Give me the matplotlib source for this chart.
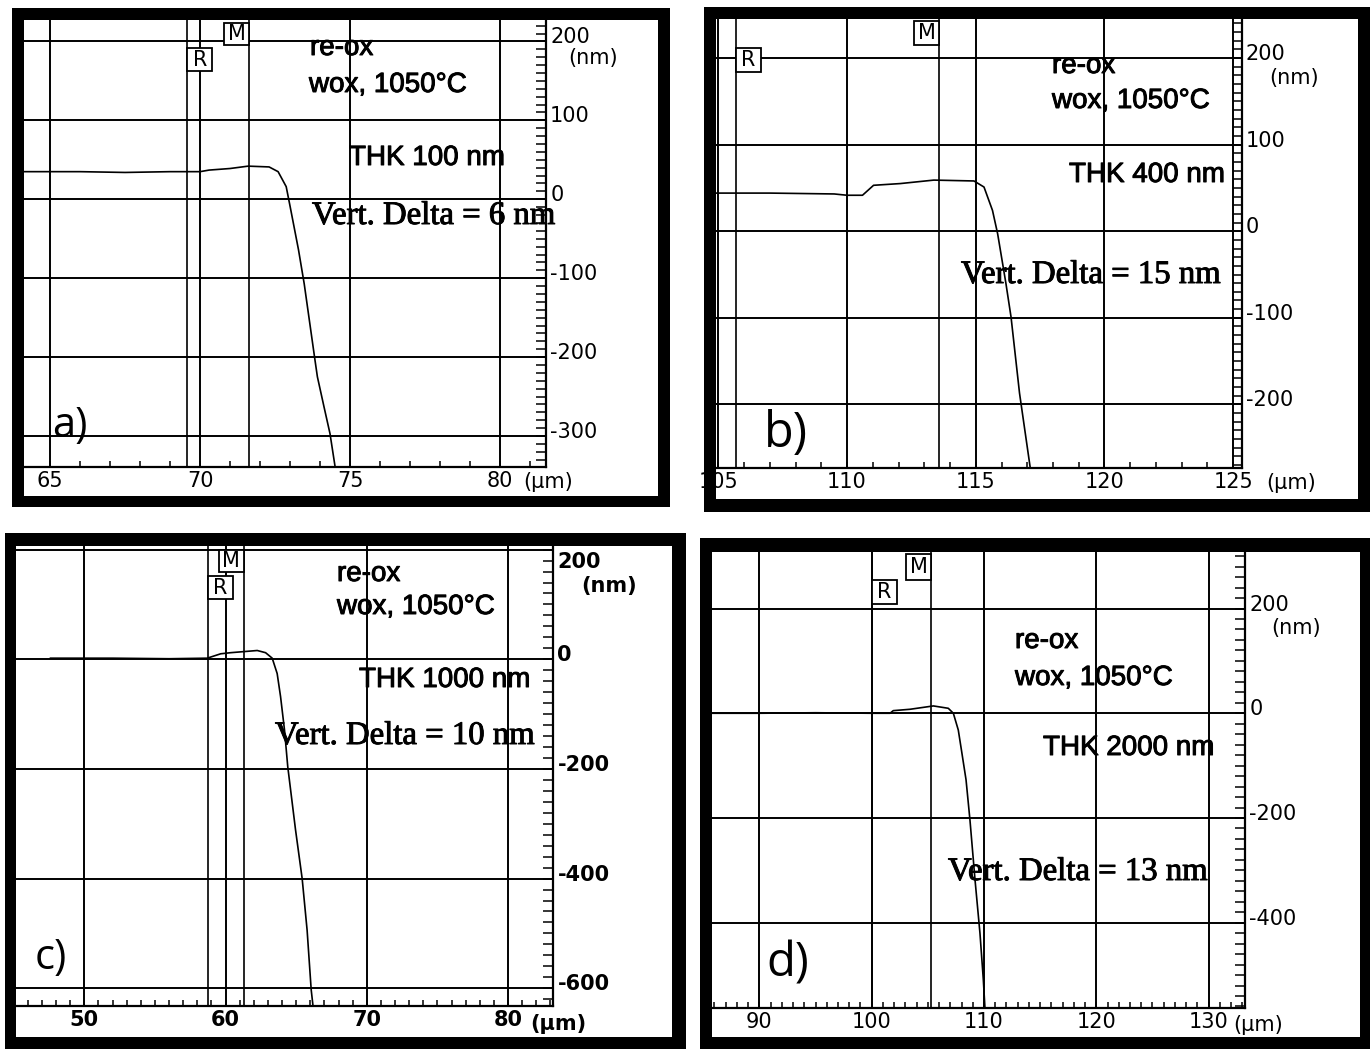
import matplotlib
matplotlib.use("Agg")
import matplotlib.pyplot as plt
import matplotlib.transforms as mtransforms
import matplotlib.patheffects as pe
from matplotlib.patches import Rectangle
from matplotlib.ticker import MultipleLocator

plt.rcParams['axes.unicode_minus'] = False
plt.rcParams['font.family'] = ['DejaVu Sans']

W, H, DPI = 1370, 1049, 100

# ------------------------------------------------------------------ data
# panel a : THK 100 nm   (x in um, y in nm)
a_x = [64.13, 66.0, 67.5, 69.0, 70.0, 70.3, 71.0, 71.6, 72.3, 72.6, 72.87, 73.0,
       73.28, 73.47, 73.83, 73.91, 74.13, 74.33, 74.5, 74.55]
a_y = [35, 35, 34, 35, 35, 37, 39, 42, 41, 35, 16, -9,
       -64, -107, -204, -225, -263, -297, -339, -345]
a_xticks = [65, 70, 75, 80]
a_yticks = [200, 100, 0, -100, -200, -300]
a_markers = [69.57, 71.64]          # R, M cursor positions
a_text = ["re-ox", "wox, 1050°C", "THK 100 nm", "Vert. Delta = 6 nm", "a)"]

# panel b : THK 400 nm
b_x = [104.9, 107.0, 109.5, 110.0, 110.6, 111.03, 112.07, 113.37, 114.93, 115.32,
       115.65, 115.85, 116.17, 116.37, 116.7, 117.12, 117.2]
b_y = [44, 44, 43, 41.5, 41.5, 53, 55, 59, 58, 51,
       24, -3, -60, -99, -187, -274, -285]
b_xticks = [105, 110, 115, 120, 125]
b_yticks = [200, 100, 0, -100, -200]
b_markers = [105.69, 113.57]
b_text = ["re-ox", "wox, 1050°C", "THK 400 nm", "Vert. Delta = 15 nm", "b)"]

# panel c : THK 1000 nm
c_x = [47.6, 52.0, 56.0, 58.7, 59.65, 60.35, 62.24, 62.83, 63.3, 63.65, 63.89,
       64.17, 64.4, 64.95, 65.42, 65.77, 66.06, 66.2]
c_y = [2, 2, 1, 2, 10, 12, 16, 12, 2, -26, -68,
       -129, -196, -311, -400, -494, -603, -635]
c_xticks = [50, 60, 70, 80]
c_yticks = [200, 0, -200, -400, -600]
c_markers = [58.73, 61.27]
c_text = ["re-ox", "wox, 1050°C", "THK 1000 nm", "Vert. Delta = 10 nm", "c)"]

# panel d : THK 2000 nm
d_x = [85.78, 90.0, 95.0, 100.0, 101.63, 101.92, 103.41, 105.49, 106.82, 107.27,
       107.71, 108.01, 108.4, 108.75, 109.2, 109.64, 109.94, 110.09]
d_y = [0, 0, 1, 0, 0, 5, 7.6, 14, 9.5, 0,
       -32, -73, -127, -204, -318, -420, -509, -565]
d_xticks = [90, 100, 110, 120, 130]
d_yticks = [200, 0, -200, -400]
d_markers = [100.0, 105.28]
d_text = ["re-ox", "wox, 1050°C", "THK 2000 nm", "Vert. Delta = 13 nm", "d)"]

marker_letters = ["R", "M"]

# ------------------------------------------------------------------ layout (pixels)
panels = [
    dict(x=a_x, y=a_y, xt=a_xticks, yt=a_yticks, mk=a_markers, txt=a_text,
         outer=(12, 8, 670, 507), inner=(24, 20, 658, 496), axbox=(24, 20, 546, 466.7),
         xlim=(64.13, 81.53), ylim=(-338.9, 227.2), xminor=1, yminor=10,
         txtpos=[(310, 55), (309, 92), (349, 165), (312, 224), (52, 437)], lblsize=30,
         boxes=[(48, 71), (23, 45)], nm=(568, 58), um=(523, 482), bold=False, ladder=False),
    dict(x=b_x, y=b_y, xt=b_xticks, yt=b_yticks, mk=b_markers, txt=b_text,
         outer=(704, 7, 1372, 512), inner=(716, 19, 1358, 499), axbox=(716, 19, 1241.7, 468),
         xlim=(104.91, 125.33), ylim=(-273.4, 245.0), xminor=1, yminor=10,
         txtpos=[(1052, 73), (1052, 108), (1069, 182), (961, 283), (764, 447)], lblsize=35,
         boxes=[(48, 72), (21, 45)], nm=(1269, 78), um=(1266, 483), bold=False, ladder=True),
    dict(x=c_x, y=c_y, xt=c_xticks, yt=c_yticks, mk=c_markers, txt=c_text,
         outer=(5, 533, 686, 1052), inner=(16, 546, 672, 1037), axbox=(16, 546, 553.3, 1005.8),
         xlim=(45.16, 83.2), ylim=(-632.0, 206.6), xminor=1, yminor=20,
         txtpos=[(337, 581), (337, 614), (359, 687), (275, 744), (35, 969)], lblsize=30,
         boxes=[(576, 599), (550, 572)], nm=(581, 586), um=(530, 1024), bold=True, ladder=False),
    dict(x=d_x, y=d_y, xt=d_xticks, yt=d_yticks, mk=d_markers, txt=d_text,
         outer=(700, 538, 1372, 1052), inner=(712, 552, 1360, 1037), axbox=(712, 552, 1245, 1008.3),
         xlim=(85.78, 133.24), ylim=(-563.5, 308.0), xminor=1, yminor=20,
         txtpos=[(1015, 648), (1015, 685), (1043, 755), (948, 880), (766, 977)], lblsize=34,
         boxes=[(580, 604), (554, 580)], nm=(1271, 628), um=(1233, 1025), bold=False, ladder=False),
]


def fx(px):
    return px / W


def fy(py):
    return 1 - py / H


thick = [pe.withStroke(linewidth=0.7, foreground='black')]

fig = plt.figure(figsize=(W / DPI, H / DPI), dpi=DPI)
fig.patch.set_facecolor('white')

for P in panels:
    l, t, r, b = P['axbox']
    ax = fig.add_axes([fx(l), fy(b), (r - l) / W, (b - t) / H])
    ax.set_facecolor('white')
    ax.set_xlim(*P['xlim'])
    ax.set_ylim(*P['ylim'])

    # profile trace
    ax.plot(P['x'], P['y'], color='black', lw=1.2, zorder=3)
    # R / M cursor lines
    for xm in P['mk']:
        ax.axvline(xm, color='black', lw=1.2, zorder=2)

    ax.set_xticks(P['xt'])
    ax.set_yticks(P['yt'])
    ax.xaxis.set_minor_locator(MultipleLocator(P['xminor']))
    ax.yaxis.set_minor_locator(MultipleLocator(P['yminor']))
    ax.grid(True, which='major', color='black', lw=1.4)

    for s in ['left', 'top']:
        ax.spines[s].set_visible(False)
    ax.spines['right'].set_linewidth(1.6)
    ax.spines['bottom'].set_linewidth(1.6)

    ax.yaxis.tick_right()
    ylen = 6.5 if P['ladder'] else 7
    ax.tick_params(axis='y', which='both', direction='in', length=ylen, width=1.1,
                   labelsize=15, pad=3, left=False, right=True)
    ax.tick_params(axis='x', which='both', direction='in', length=4.5, width=1.1,
                   labelsize=15, pad=3, top=False)

    # shift y tick labels slightly above their lines
    for tick, val in zip(ax.yaxis.get_major_ticks(), P['yt']):
        dy = 6
        if P['bold'] and val == P['yt'][0]:
            dy = -10
        off = mtransforms.ScaledTranslation(0, dy / DPI, fig.dpi_scale_trans)
        tick.label2.set_transform(tick.label2.get_transform() + off)
        if P['bold']:
            tick.label2.set_fontweight('bold')
    if P['bold']:
        for tick in ax.xaxis.get_major_ticks():
            tick.label1.set_fontweight('bold')

    wt = 'bold' if P['bold'] else 'normal'
    ax.set_xlabel('(µm)', fontsize=15, ha='left', va='center', fontweight=wt)
    ax.xaxis.set_label_coords(fx(P['um'][0]), fy(P['um'][1]), transform=fig.transFigure)
    ax.set_ylabel('(nm)', fontsize=15, rotation=0, ha='left', va='center', fontweight=wt)
    ax.yaxis.set_label_coords(fx(P['nm'][0]), fy(P['nm'][1]), transform=fig.transFigure)

    # cursor boxes R / M
    trans = mtransforms.blended_transform_factory(ax.transData, fig.transFigure)
    wdata = 25 * (P['xlim'][1] - P['xlim'][0]) / (r - l)
    for i, (xm, (yt, yb)) in enumerate(zip(P['mk'], P['boxes'])):
        x0 = xm if i == 0 else xm - wdata
        ax.add_patch(Rectangle((x0, fy(yb)), wdata, (yb - yt) / H, transform=trans,
                               fc='white', ec='black', lw=1.3, zorder=4, clip_on=False))
        ax.text(x0 + wdata / 2, fy((yt + yb) / 2), marker_letters[i], transform=trans,
                ha='center', va='center', fontsize=15, zorder=5, clip_on=False)

    # annotations
    fams = [['Liberation Sans'], ['Liberation Sans'], ['Liberation Sans'],
            ['Liberation Serif'], ['Open Sans', 'DejaVu Sans']]
    sizes = [20, 20, 20, 23.6, P['lblsize']]
    effects = [thick, thick, thick, thick, None]
    for s, (px, py), fam, fs, eff in zip(P['txt'], P['txtpos'], fams, sizes, effects):
        t_ = fig.text(fx(px), fy(py), s, family=fam, fontsize=fs, ha='left', va='baseline',
                      color='black', zorder=6)
        if eff:
            t_.set_path_effects(eff)

    # black scan frame (drawn above the axes)
    x0, y0, x1, y1 = P['outer']
    ix0, iy0, ix1, iy1 = P['inner']
    bands = [(x0, y0, x1, iy0), (x0, iy1, x1, y1), (x0, iy0, ix0, iy1), (ix1, iy0, x1, iy1)]
    for (bx0, by0, bx1, by1) in bands:
        fig.add_artist(Rectangle((fx(bx0), fy(by1)), (bx1 - bx0) / W, (by1 - by0) / H,
                                 transform=fig.transFigure, fc='black', ec='none', zorder=10))

fig.savefig('out.png', dpi=DPI)
